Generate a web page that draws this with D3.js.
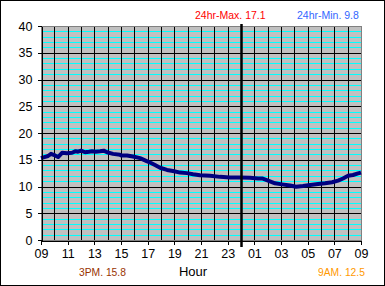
<!DOCTYPE html>
<html lang="en">
<head>
  <meta charset="UTF-8">
  <title>24hr Temperature</title>
  <style>
    body { margin: 0; background: #fff; }
    svg { display: block; font-family: "Liberation Sans", Arial, sans-serif; }
  </style>
</head>
<body>
  <svg width="385" height="286"></svg>
  <script src="https://cdn.jsdelivr.net/npm/d3@7"></script>
  <script>
    // hours since 09:00 and temperature readings
    var hours = [0, 0.25, 0.53, 0.75, 1.05, 1.28, 1.58, 1.95, 2.33, 2.6, 2.78, 3.0, 3.3, 3.6, 3.83, 4.1, 4.43, 4.7, 4.95,
      5.4, 5.93, 6.0, 6.45, 6.9, 7.43, 7.88, 8.25, 8.55, 8.93, 9.45, 9.9, 10.43, 10.95, 11.4, 11.93, 12.68, 13.43,
      14.18, 14.93, 15.68, 16.28, 16.58, 17.03, 17.55, 18.08, 18.68, 19.13, 19.65, 20.18, 20.78, 21.3, 21.83,
      22.28, 22.65, 23.03, 23.4, 23.78, 24];
    var temps = [15.3, 15.5, 15.7, 16.1, 15.8, 15.5, 16.3, 16.2, 16.3, 16.6, 16.5, 16.7, 16.4, 16.5, 16.6, 16.5, 16.6, 16.7, 16.4,
      16.1, 15.95, 15.8, 15.8, 15.6, 15.3, 14.8, 14.4, 14.0, 13.5, 13.1, 12.9, 12.6, 12.5, 12.3, 12.1, 12.0, 11.8,
      11.7, 11.7, 11.65, 11.5, 11.5, 11.1, 10.6, 10.4, 10.2, 9.95, 10.1, 10.3, 10.45, 10.6, 10.8,
      11.1, 11.5, 12.0, 12.15, 12.45, 12.6];
    var hourLabels = ["09", "11", "13", "15", "17", "19", "21", "23", "01", "03", "05", "07", "09"];
    var yTicks = [0, 5, 10, 15, 20, 25, 30, 35, 40];
    var maxLabel = "24hr-Max. 17.1";
    var minLabel = "24hr-Min. 9.8";
    var pmLabel = "3PM. 15.8";
    var amLabel = "9AM. 12.5";

    var svg = d3.select("svg");
    var x = d3.scaleLinear().domain([0, 24]).range([41, 361]);
    var y = d3.scaleLinear().domain([0, 40]).range([240, 26]);

    svg.append("rect").attr("x", 0.5).attr("y", 0.5).attr("width", 384).attr("height", 285)
      .attr("fill", "#fff").attr("stroke", "#000").attr("stroke-width", 1);

    var g = svg.append("g").attr("shape-rendering", "crispEdges");
    g.append("rect").attr("x", x(0)).attr("y", y(40)).attr("width", x(24) - x(0)).attr("height", y(0) - y(40))
      .attr("fill", "#c0c0c0");

    // cyan minor gridlines every degree
    g.append("g").selectAll("line").data(d3.range(1, 40).filter(function (d) { return d % 5 != 0; }))
      .enter().append("line")
      .attr("x1", x(0)).attr("x2", x(24))
      .attr("y1", function (d) { return Math.round(y(d)) + 0.5; })
      .attr("y2", function (d) { return Math.round(y(d)) + 0.5; })
      .attr("stroke", "#00ffff");

    // black gridlines
    g.append("g").selectAll("line").data(d3.range(5, 40, 5))
      .enter().append("line")
      .attr("x1", x(0)).attr("x2", x(24))
      .attr("y1", function (d) { return Math.round(y(d)) + 0.5; })
      .attr("y2", function (d) { return Math.round(y(d)) + 0.5; })
      .attr("stroke", "#000");
    g.append("g").selectAll("line").data(d3.range(1, 24))
      .enter().append("line")
      .attr("y1", y(40)).attr("y2", y(0))
      .attr("x1", function (d) { return Math.round(x(d)) + 0.5; })
      .attr("x2", function (d) { return Math.round(x(d)) + 0.5; })
      .attr("stroke", "#000");

    g.append("rect").attr("x", x(0) + 0.5).attr("y", y(40) + 0.5).attr("width", x(24) - x(0)).attr("height", y(0) - y(40))
      .attr("fill", "none").attr("stroke", "#808080");

    // data line
    var line = d3.line().x(function (d, i) { return x(hours[i]); }).y(function (d) { return y(d); });
    svg.append("path").datum(temps).attr("d", line)
      .attr("fill", "none").attr("stroke", "#000080").attr("stroke-width", 4)
      .attr("stroke-linejoin", "round");

    // axes
    var yAxis = d3.axisLeft(y).tickValues(yTicks).tickSize(4).tickPadding(5).tickSizeOuter(0);
    var ya = svg.append("g").attr("transform", "translate(" + (x(0) + 0.5) + ",0)").call(yAxis);
    var xAxis = d3.axisBottom(x).tickValues(d3.range(0, 25, 2)).tickSize(4).tickPadding(5).tickSizeOuter(0)
      .tickFormat(function (d, i) { return hourLabels[i]; });
    var xa = svg.append("g").attr("transform", "translate(0," + (y(0) + 0.5) + ")").call(xAxis);
    [ya, xa].forEach(function (a) {
      a.attr("shape-rendering", "crispEdges");
      a.select(".domain").attr("stroke", "#000");
      a.selectAll(".tick line").attr("stroke", "#000");
      a.selectAll("text").attr("fill", "#000").style("font-family", "Liberation Sans, Arial, sans-serif").style("font-size", "12.5px");
    });

    // midnight marker
    svg.append("line").attr("x1", x(15) + 0.5).attr("x2", x(15) + 0.5).attr("y1", 24).attr("y2", 247)
      .attr("stroke", "#000").attr("stroke-width", 2.5);

    svg.append("text").attr("x", 193).attr("y", 276).attr("text-anchor", "middle")
      .style("font-size", "13px").text("Hour");
    svg.append("text").attr("x", 195).attr("y", 19).attr("fill", "#ff0000").style("font-size", "10.5px").text(maxLabel);
    svg.append("text").attr("x", 297).attr("y", 19).attr("fill", "#3366ff").style("font-size", "10.5px").text(minLabel);
    svg.append("text").attr("x", 79).attr("y", 276).attr("fill", "#993300").style("font-size", "10.3px").text(pmLabel);
    svg.append("text").attr("x", 318).attr("y", 276).attr("fill", "#ff9900").style("font-size", "10.3px").text(amLabel);
  </script>
</body>
</html>
